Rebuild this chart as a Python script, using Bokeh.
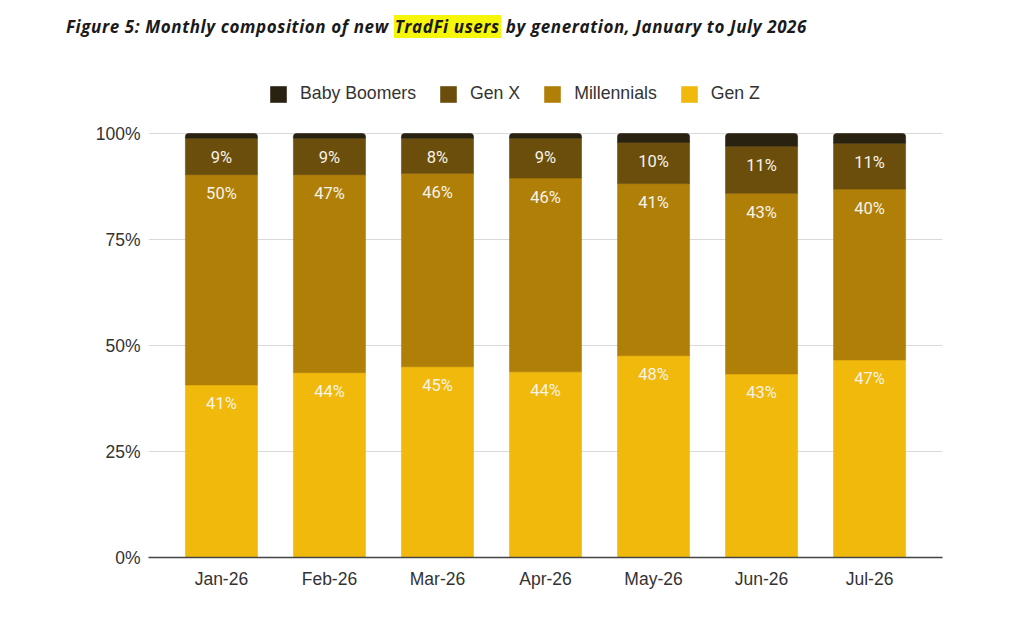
from bokeh.plotting import figure
from bokeh.layouts import column
from bokeh.models import (ColumnDataSource, FactorRange, Range1d, FixedTicker,
                          PrintfTickFormatter, Legend, LegendItem, Div)
from bokeh.core.properties import value
from bokeh.embed import file_html
from bokeh.resources import INLINE

# ---- data (percent of new users) ----
months = ["Jan-26", "Feb-26", "Mar-26", "Apr-26", "May-26", "Jun-26", "Jul-26"]
gen_z = [40.7, 43.6, 45.0, 43.8, 47.6, 43.3, 46.6]
millennials = [49.6, 46.7, 45.6, 45.7, 40.6, 42.6, 40.3]
gen_x = [8.6, 8.6, 8.3, 9.4, 9.7, 11.1, 10.8]
baby_boomers = [1.1, 1.1, 1.1, 1.1, 2.1, 3.0, 2.3]
series_names = ["Gen Z", "Millennials", "Gen X", "Baby Boomers"]
legend_order = ["Baby Boomers", "Gen X", "Millennials", "Gen Z"]
y_ticks = [0, 25, 50, 75, 100]
title_parts = ["Figure 5: Monthly composition of new", "TradFi users",
               "by generation, January to July 2026"]

colors = {"Gen Z": "#f0b90b", "Millennials": "#b07f08",
          "Gen X": "#6b4e0b", "Baby Boomers": "#2a2210"}
series = {"Gen Z": gen_z, "Millennials": millennials,
          "Gen X": gen_x, "Baby Boomers": baby_boomers}

FONT = "Liberation Sans"
HEAD_H = 50
# page-pixel layout: frame top (room for legend), 100% line, 0% line
FRAME_TOP, Y100, Y0 = 70, 133, 557

# ---------- title (HTML text with highlighted part) ----------
title_html = (
    '<div style="position:absolute; left:66px; top:16px; white-space:nowrap; '
    "font-family:'Open Sans'; font-style:italic; font-weight:700; font-size:17px; "
    'letter-spacing:0.6px; color:#1a1a1a; line-height:22px;">'
    f'{title_parts[0]} '
    f'<span style="background:#f6f60a; padding:0 1px;">{title_parts[1]}</span> '
    f'{title_parts[2]}</div>'
)
head = Div(text=title_html, width=1024, height=HEAD_H, margin=0,
           styles={"position": "relative"})

# ---------- main chart ----------
y_end = 100 * (Y0 - FRAME_TOP) / (Y0 - Y100)
p = figure(width=1024, height=624 - HEAD_H, output_backend="svg", toolbar_location=None,
           x_range=FactorRange(*months, range_padding=0.175, range_padding_units="absolute"),
           y_range=Range1d(0, y_end),
           min_border_left=148, min_border_right=82,
           min_border_top=FRAME_TOP - HEAD_H, min_border_bottom=624 - Y0)
p.outline_line_color = None
p.background_fill_color = "white"
p.border_fill_color = "white"

renderers = {}
bottoms = [0.0] * len(months)
for name in series_names:
    vals = series[name]
    tops = [b + v for b, v in zip(bottoms, vals)]
    src = ColumnDataSource(dict(x=months, bottom=bottoms, top=tops,
                                lab=[f"{round(v)}%" for v in vals]))
    kw = {}
    if name == "Baby Boomers":
        kw["border_radius"] = (3, 3, 0, 0)
    renderers[name] = p.vbar(x="x", bottom="bottom", top="top", width=0.667,
                             source=src, fill_color=colors[name],
                             line_color=colors[name], line_width=0.6, **kw)
    if name != "Baby Boomers":
        p.text(x="x", y="top", text="lab", source=src, y_offset=19,
               text_align="center", text_baseline="middle",
               text_color="#f7f3e8", text_font=value("Roboto"),
               text_font_size="16.5px")
    bottoms = tops

p.yaxis.ticker = FixedTicker(ticks=y_ticks)
p.yaxis.formatter = PrintfTickFormatter(format="%d%%")
p.yaxis.axis_line_color = None
p.yaxis.major_tick_line_color = None
p.yaxis.minor_tick_line_color = None
p.yaxis.major_label_text_font = FONT
p.yaxis.major_label_text_font_size = "17.5px"
p.yaxis.major_label_text_color = "#333333"
p.yaxis.major_label_standoff = 2

p.xaxis.axis_line_color = "#444444"
p.xaxis.axis_line_width = 1.5
p.xaxis.major_tick_line_color = None
p.xaxis.minor_tick_line_color = None
p.xaxis.major_label_text_font = FONT
p.xaxis.major_label_text_font_size = "17.5px"
p.xaxis.major_label_text_color = "#333333"
p.xaxis.major_label_standoff = 5

p.xgrid.grid_line_color = None
p.ygrid.grid_line_color = "#d9d9d9"
p.ygrid.grid_line_width = 1

legend = Legend(items=[LegendItem(label=n, renderers=[renderers[n]])
                       for n in legend_order],
                orientation="horizontal", location=(120, Y0 - 104),
                glyph_width=20, glyph_height=20, label_standoff=12, spacing=22,
                padding=0, margin=0, border_line_color=None,
                background_fill_alpha=0, label_text_font=FONT,
                label_text_font_size="17.7px", label_text_color="#333333")
p.add_layout(legend, "center")

layout = column(head, p, spacing=0)
open("out.html", "w").write(file_html(layout, INLINE))
